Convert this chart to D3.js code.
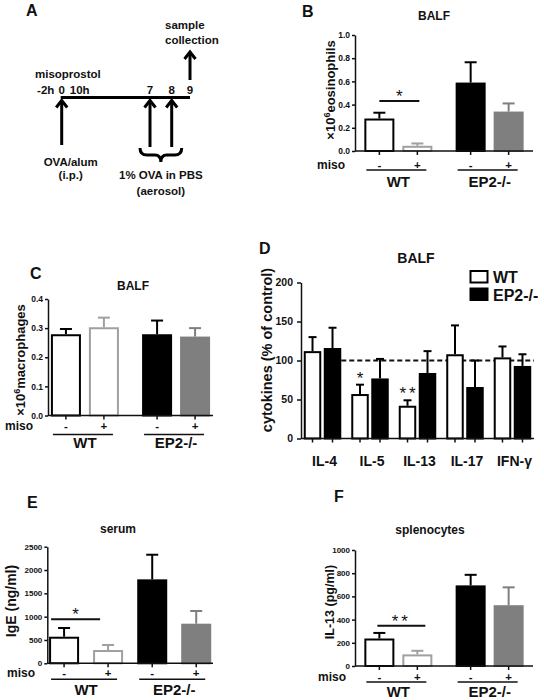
<!DOCTYPE html>
<html><head><meta charset="utf-8">
<script src="https://cdn.jsdelivr.net/npm/d3@7"></script>
<style>body{margin:0;background:#fff;} svg{display:block;}</style>
</head><body>
<script>
// ---------------- DATA ----------------
const groups = ["WT", "EP2-/-"];
const miso = ["-", "+"];

const eosinophils = [0.28, 0.045, 0.59, 0.34];
const eosinophilsErr = [0.05, 0.02, 0.175, 0.07];
const eosTicks = [0, 0.2, 0.4, 0.6, 0.8, 1.0];

const macrophages = [0.279, 0.303, 0.279, 0.271];
const macrophagesErr = [0.018, 0.033, 0.047, 0.029];
const macTicks = [0, 0.1, 0.2, 0.3, 0.4];

const ige = [570, 285, 1800, 849];
const igeErr = [187, 107, 528, 272];
const igeTicks = [0, 500, 1000, 1500, 2000, 2500];

const il13 = [237, 100, 695, 524];
const il13Err = [48, 31, 91, 154];
const il13Ticks = [0, 200, 400, 600, 800, 1000];

const cytokines = ["IL-4", "IL-5", "IL-13", "IL-17", "IFN-γ"];
const cytoSeries = ["WT", "EP2-/-"];
const cytoWT = [112, 57, 42, 108, 104];
const cytoWTErr = [18, 12, 7, 37, 14];
const cytoEP2 = [116, 77, 84, 66, 93];
const cytoEP2Err = [26, 25, 28, 34, 15];
const cytoTicks = [0, 50, 100, 150, 200];
const cytoSig = ["", "*", "**", "", ""];
const controlLevel = 100;

const timelineDays = [0, 7, 8, 9];

// ---------------- SETUP ----------------
const FONT = "'Liberation Sans', Arial, sans-serif";
const svg = d3.select("body").append("svg").attr("width", 544).attr("height", 700);

const condStyles = [
  {fill: "#fff", stroke: "#000"},
  {fill: "#fff", stroke: "#a0a0a0"},
  {fill: "#000", stroke: "#000"},
  {fill: "#7f7f7f", stroke: "#7f7f7f"}
];

function txt(x, y, s, size, anchor = "middle", weight = "bold") {
  return svg.append("text").attr("x", x).attr("y", y).attr("font-family", FONT)
    .attr("font-size", size).attr("font-weight", weight).attr("text-anchor", anchor)
    .attr("fill", "#111").text(s);
}

function styleAxis(g, size) {
  g.select(".domain").attr("stroke", "#111").attr("stroke-width", 1.5);
  g.selectAll(".tick line").attr("stroke", "#111").attr("stroke-width", 1.5);
  g.selectAll(".tick text").attr("font-family", FONT).attr("font-size", size)
    .attr("font-weight", "bold").attr("fill", "#111");
}

function barPanel(c) {
  const y = d3.scaleLinear().domain([c.ticks[0], c.ticks[c.ticks.length - 1]]).range([c.y0, c.yTop]);
  const xg = d3.scalePoint().domain(groups).range([c.xAxis, c.xEnd]).padding(c.gpad);
  const xi = d3.scaleBand().domain(miso).range([-c.half, c.half]).paddingInner(c.ipad);
  const bw = xi.bandwidth();
  const bars = c.values.map((v, i) => ({v, e: c.errs[i], g: groups[Math.floor(i / 2)], m: miso[i % 2], s: condStyles[i]}));
  const cx = d => xg(d.g) + xi(d.m) + bw / 2;

  // bars
  svg.append("g").selectAll("rect").data(bars).join("rect")
    .attr("x", d => cx(d) - bw / 2 + 1).attr("width", bw - 2)
    .attr("y", d => y(d.v) + 1).attr("height", d => y(0) - y(d.v) - 1)
    .attr("fill", d => d.s.fill).attr("stroke", d => d.s.stroke).attr("stroke-width", 2);
  // error bars
  const eg = svg.append("g").selectAll("g").data(bars).join("g")
    .attr("stroke", d => d.s.stroke).attr("stroke-width", 2);
  eg.append("line").attr("x1", cx).attr("x2", cx).attr("y1", d => y(d.v)).attr("y2", d => y(d.v + d.e));
  eg.append("line").attr("x1", d => cx(d) - c.cap / 2).attr("x2", d => cx(d) + c.cap / 2)
    .attr("y1", d => y(d.v + d.e)).attr("y2", d => y(d.v + d.e));

  // y axis
  const ya = svg.append("g").attr("transform", `translate(${c.xAxis},0)`)
    .call(d3.axisLeft(y).tickValues(c.ticks).tickFormat(c.fmt).tickSize(3).tickSizeOuter(0).tickPadding(c.tpad));
  styleAxis(ya, c.tickFont);
  // x axis
  svg.append("line").attr("x1", c.xAxis).attr("x2", c.xEnd).attr("y1", c.y0).attr("y2", c.y0)
    .attr("stroke", "#111").attr("stroke-width", 1.5);
  svg.append("g").selectAll("line").data(bars).join("line")
    .attr("x1", cx).attr("x2", cx).attr("y1", c.y0).attr("y2", c.y0 + 4)
    .attr("stroke", "#111").attr("stroke-width", 1.5);

  // miso labels
  bars.forEach(d => txt(cx(d), c.y0 + c.misoDy, d.m, 11.5));
  txt(c.misoX, c.y0 + c.misoDy, "miso", 12, "end");
  // group underlines and labels
  groups.forEach(g => {
    const l = xg(g) + xi("-") + c.ulPad[0], r = xg(g) + xi("+") + bw + c.ulPad[1];
    svg.append("line").attr("x1", l).attr("x2", r).attr("y1", c.y0 + c.ulDy).attr("y2", c.y0 + c.ulDy)
      .attr("stroke", "#111").attr("stroke-width", 1.5);
    txt(xg(g), c.y0 + c.grpDy, g, 15);
  });

  // significance
  if (c.sig) {
    const b0 = bars[0], b1 = bars[1];
    const sy = y(c.sigLevel);
    svg.append("line").attr("x1", cx(b0) + c.sigDx[0]).attr("x2", cx(b1) + c.sigDx[1])
      .attr("y1", sy).attr("y2", sy).attr("stroke", "#111").attr("stroke-width", 2);
    txt((cx(b0) + c.sigDx[0] + cx(b1) + c.sigDx[1]) / 2, sy + 1, c.sig, 17, "middle", "normal")
      .attr("letter-spacing", c.sig.length > 1 ? 3 : 0);
  }

  // title + y label + panel letter
  txt(c.titleX, c.titleY, c.title, 12);
  const yl = svg.append("text").attr("transform", `translate(${c.ylX},${c.ylY}) rotate(-90)`)
    .attr("font-family", FONT).attr("font-size", c.ylSize).attr("font-weight", "bold")
    .attr("text-anchor", "middle").attr("fill", "#111");
  c.ylParts.forEach(p => {
    const t = yl.append("tspan").text(p.t);
    if (p.sup) t.attr("baseline-shift", "super").attr("font-size", c.ylSize * 0.7);
  });
  txt(c.letterX, c.letterY, c.letter, 16, "start");
}

// ---------------- PANEL B ----------------
barPanel({
  values: eosinophils, errs: eosinophilsErr, ticks: eosTicks, fmt: d3.format(".1f"),
  y0: 151, yTop: 35, xAxis: 355, xEnd: 533, gpad: 0.475, half: 34, ipad: 0.21, cap: 12,
  tpad: 2, tickFont: 8.5, misoDy: 18, misoX: 345, ulDy: 19, ulPad: [2, -6], grpDy: 36,
  sigLevel: 0.43, sigDx: [0, 2], sig: "*",
  title: "BALF", titleX: 434, titleY: 20,
  ylParts: [{t: "×10"}, {t: "6", sup: true}, {t: "eosinophils"}], ylSize: 13, ylX: 335, ylY: 90,
  letter: "B", letterX: 302, letterY: 17
});

// ---------------- PANEL C ----------------
barPanel({
  values: macrophages, errs: macrophagesErr, ticks: macTicks, fmt: d3.format(".1f"),
  y0: 415.5, yTop: 299, xAxis: 48, xEnd: 213, gpad: 0.405, half: 34, ipad: 0.21, cap: 12,
  tpad: 2, tickFont: 8.5, misoDy: 14, misoX: 33, ulDy: 19, ulPad: [2, -6], grpDy: 32,
  sigLevel: 0, sigDx: [0, 0], sig: "",
  title: "BALF", titleX: 133, titleY: 290,
  ylParts: [{t: "×10"}, {t: "6", sup: true}, {t: "macrophages"}], ylSize: 13, ylX: 25, ylY: 360,
  letter: "C", letterX: 30, letterY: 279
});

// ---------------- PANEL E ----------------
barPanel({
  values: ige, errs: igeErr, ticks: igeTicks, fmt: d3.format("d"),
  y0: 663.3, yTop: 546.7, xAxis: 47.3, xEnd: 213, gpad: 0.44, half: 37, ipad: 0.318, cap: 12,
  tpad: 2, tickFont: 8, misoDy: 14, misoX: 35, ulDy: 16, ulPad: [2, -6], grpDy: 32,
  sigLevel: 943, sigDx: [-13, -8], sig: "*",
  title: "serum", titleX: 118, titleY: 533,
  ylParts: [{t: "IgE (ng/ml)"}], ylSize: 14, ylX: 16, ylY: 601,
  letter: "E", letterX: 27, letterY: 508
});

// ---------------- PANEL F ----------------
barPanel({
  values: il13, errs: il13Err, ticks: il13Ticks, fmt: d3.format("d"),
  y0: 666, yTop: 550, xAxis: 355, xEnd: 533, gpad: 0.475, half: 34, ipad: 0.21, cap: 12,
  tpad: 2, tickFont: 8, misoDy: 15, misoX: 346, ulDy: 16, ulPad: [2, -6], grpDy: 30.5,
  sigLevel: 347, sigDx: [-2, 8], sig: "**",
  title: "splenocytes", titleX: 430, titleY: 534,
  ylParts: [{t: "IL-13 (pg/ml)"}], ylSize: 12.5, ylX: 334, ylY: 602,
  letter: "F", letterX: 334, letterY: 502
});

// ---------------- PANEL D ----------------
(function () {
  const y0 = 438.5, yTop = 282.5, xAxis = 301, xEnd = 534;
  const y = d3.scaleLinear().domain([0, 200]).range([y0, yTop]);
  const xg = d3.scalePoint().domain(cytokines).range([xAxis, xEnd]).padding(0.453);
  const xi = d3.scaleBand().domain(cytoSeries).range([-18.75, 18.75]).paddingInner(0.125);
  const bw = xi.bandwidth();
  const sty = {"WT": {fill: "#fff", stroke: "#000"}, "EP2-/-": {fill: "#000", stroke: "#000"}};
  const bars = [];
  cytokines.forEach((c, i) => {
    bars.push({c, s: "WT", v: cytoWT[i], e: cytoWTErr[i], sig: cytoSig[i]});
    bars.push({c, s: "EP2-/-", v: cytoEP2[i], e: cytoEP2Err[i], sig: ""});
  });
  const cx = d => xg(d.c) + xi(d.s) + bw / 2;

  // dashed control line
  svg.append("line").attr("x1", xg(cytokines[0]) + xi(cytoSeries[1]) + bw).attr("x2", xEnd)
    .attr("y1", y(controlLevel)).attr("y2", y(controlLevel))
    .attr("stroke", "#111").attr("stroke-width", 2).attr("stroke-dasharray", "5,3");

  svg.append("g").selectAll("rect").data(bars).join("rect")
    .attr("x", d => cx(d) - bw / 2 + 1).attr("width", bw - 2)
    .attr("y", d => y(d.v) + 1).attr("height", d => y(0) - y(d.v) - 1)
    .attr("fill", d => sty[d.s].fill).attr("stroke", d => sty[d.s].stroke).attr("stroke-width", 2);
  const eg = svg.append("g").selectAll("g").data(bars).join("g").attr("stroke", "#000").attr("stroke-width", 2);
  eg.append("line").attr("x1", cx).attr("x2", cx).attr("y1", d => y(d.v)).attr("y2", d => y(d.v + d.e));
  eg.append("line").attr("x1", d => cx(d) - 4).attr("x2", d => cx(d) + 4)
    .attr("y1", d => y(d.v + d.e)).attr("y2", d => y(d.v + d.e));
  bars.filter(d => d.sig).forEach(d => {
    txt(cx(d) + (d.sig.length > 1 ? 1.5 : 0), y(d.v + d.e) - 1, d.sig, 17, "middle", "normal")
      .attr("letter-spacing", d.sig.length > 1 ? 3 : 0);
  });

  const ya = svg.append("g").attr("transform", `translate(${xAxis},0)`)
    .call(d3.axisLeft(y).tickValues(cytoTicks).tickSize(4).tickSizeOuter(0).tickPadding(4));
  styleAxis(ya, 10.5);
  svg.append("line").attr("x1", xAxis).attr("x2", xEnd).attr("y1", y0).attr("y2", y0)
    .attr("stroke", "#111").attr("stroke-width", 1.5);
  svg.append("g").selectAll("line").data(bars).join("line")
    .attr("x1", cx).attr("x2", cx).attr("y1", y0).attr("y2", y0 + 4)
    .attr("stroke", "#111").attr("stroke-width", 1.5);
  cytokines.forEach(c => txt(xg(c) + 2, 466, c, 14));

  // legend
  cytoSeries.forEach((s, i) => {
    svg.append("rect").attr("x", 470.5).attr("y", 271 + i * 17.5).attr("width", 17).attr("height", 11.5)
      .attr("fill", sty[s].fill).attr("stroke", sty[s].stroke).attr("stroke-width", 2);
    txt(493, 283 + i * 17.5, s, 16, "start");
  });

  txt(416, 263, "BALF", 14);
  svg.append("text").attr("transform", `translate(272,350) rotate(-90)`)
    .attr("font-family", FONT).attr("font-size", 14.5).attr("font-weight", "bold")
    .attr("text-anchor", "middle").attr("fill", "#111").text("cytokines (% of control)");
  txt(259, 254, "D", 16, "start");
})();

// ---------------- PANEL A ----------------
(function () {
  const t = d3.scaleLinear().domain([0, 7, 8, 9]).range([61.7, 150, 171.7, 190]);
  const lineY = 97.5;
  const g = svg.append("g").attr("stroke", "#000").attr("stroke-width", 3).attr("fill", "none");
  g.append("line").attr("x1", t(0) - 1).attr("x2", t(9)).attr("y1", lineY).attr("y2", lineY);
  function upArrow(x, yb, yt) {
    g.append("line").attr("x1", x).attr("x2", x).attr("y1", yb).attr("y2", yt + 1);
    g.append("path").attr("d", `M${x - 5.5},${yt + 7} L${x},${yt} L${x + 5.5},${yt + 7}`);
  }
  upArrow(t(0), 145, lineY + 3);
  upArrow(t(7), 147, lineY + 3);
  upArrow(t(8), 147, lineY + 3);
  upArrow(t(9), 80, 52);
  // brace under days 7-8
  const bl = t(7) - 10, br = t(8) + 10, bm = (t(7) + t(8)) / 2, by = 148;
  g.append("path").attr("d",
    `M${bl},${by} Q${bl},${by + 7} ${bl + 7},${by + 7} L${bm - 6},${by + 7} Q${bm},${by + 7} ${bm},${by + 14} ` +
    `Q${bm},${by + 7} ${bm + 6},${by + 7} L${br - 7},${by + 7} Q${br},${by + 7} ${br},${by}`);

  const fs = 11.5;
  txt(t(0) - 16, 94, "-2h", fs);
  txt(t(0), 94, "0", fs);
  txt(t(0) + 18, 94, "10h", fs);
  timelineDays.slice(1).forEach(d => txt(t(d), 94, String(d), fs));
  txt(35, 78, "misoprostol", fs, "start");
  txt(165, 29, "sample", fs, "start");
  txt(165, 44, "collection", fs, "start");
  txt(t(0) + 9, 166, "OVA/alum", fs);
  txt(t(0) + 9, 179, "(i.p.)", fs);
  txt(bm, 179, "1% OVA in PBS", fs);
  txt(bm, 195, "(aerosol)", fs);
  txt(26, 16, "A", 16, "start");
})();
</script>
</body></html>
